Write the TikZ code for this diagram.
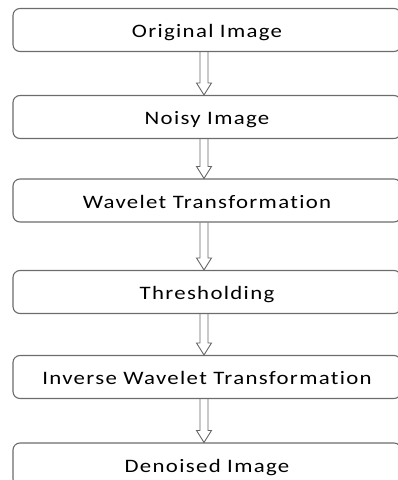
\documentclass[tikz,border=0pt]{standalone}
\usepackage{fontspec}
\setmainfont{Carlito}[Ligatures=NoCommon, FakeStretch=1.2, LetterSpace=7]
\usepackage{tikz}
\usetikzlibrary{calc}
\tikzset{
  stepbox/.style={draw=gray!85!black, line width=1.1pt, rounded corners=7pt,
    minimum width=388pt, minimum height=43pt, inner sep=0pt,
    text height=15pt, text depth=0pt,
    font=\fontsize{19}{22}\selectfont, text=black},
  arrowline/.style={draw=gray!80!black, line width=0.9pt, line join=miter}
}
\def\flowarrow#1#2{%
  \draw[arrowline] ($(#1.south -| axis)+(-4,0)$) -- ($(#2.north -| axis)+(-4,-12)$)
    -- ($(#2.north -| axis)+(-7.5,-12)$) -- (#2.north -| axis)
    -- ($(#2.north -| axis)+(7.5,-12)$) -- ($(#2.north -| axis)+(4,-12)$)
    -- ($(#1.south -| axis)+(4,0)$);}

\begin{document}
\begin{tikzpicture}[x=1pt, y=-1pt]
    \useasboundingbox (0,0) rectangle (398,480);
    \clip (0,0) rectangle (398,480);
    \coordinate (axis) at (204,0);
    \node[stepbox] (orig) at (207,30) {Original Image};
    \node[stepbox] (noisy) at (207,117) {Noisy Image};
    \node[stepbox] (wavelet) at (207,200.5) {Wavelet Transformation};
    \node[stepbox] (thresh) at (207,292) {Thresholding};
    \node[stepbox] (inverse) at (207,377) {Inverse Wavelet Transformation};
    \node[stepbox] (denoised) at (207,464.5) {Denoised Image};
    \flowarrow{orig}{noisy}
    \flowarrow{noisy}{wavelet}
    \flowarrow{wavelet}{thresh}
    \flowarrow{thresh}{inverse}
    \flowarrow{inverse}{denoised}
\end{tikzpicture}
\end{document}
